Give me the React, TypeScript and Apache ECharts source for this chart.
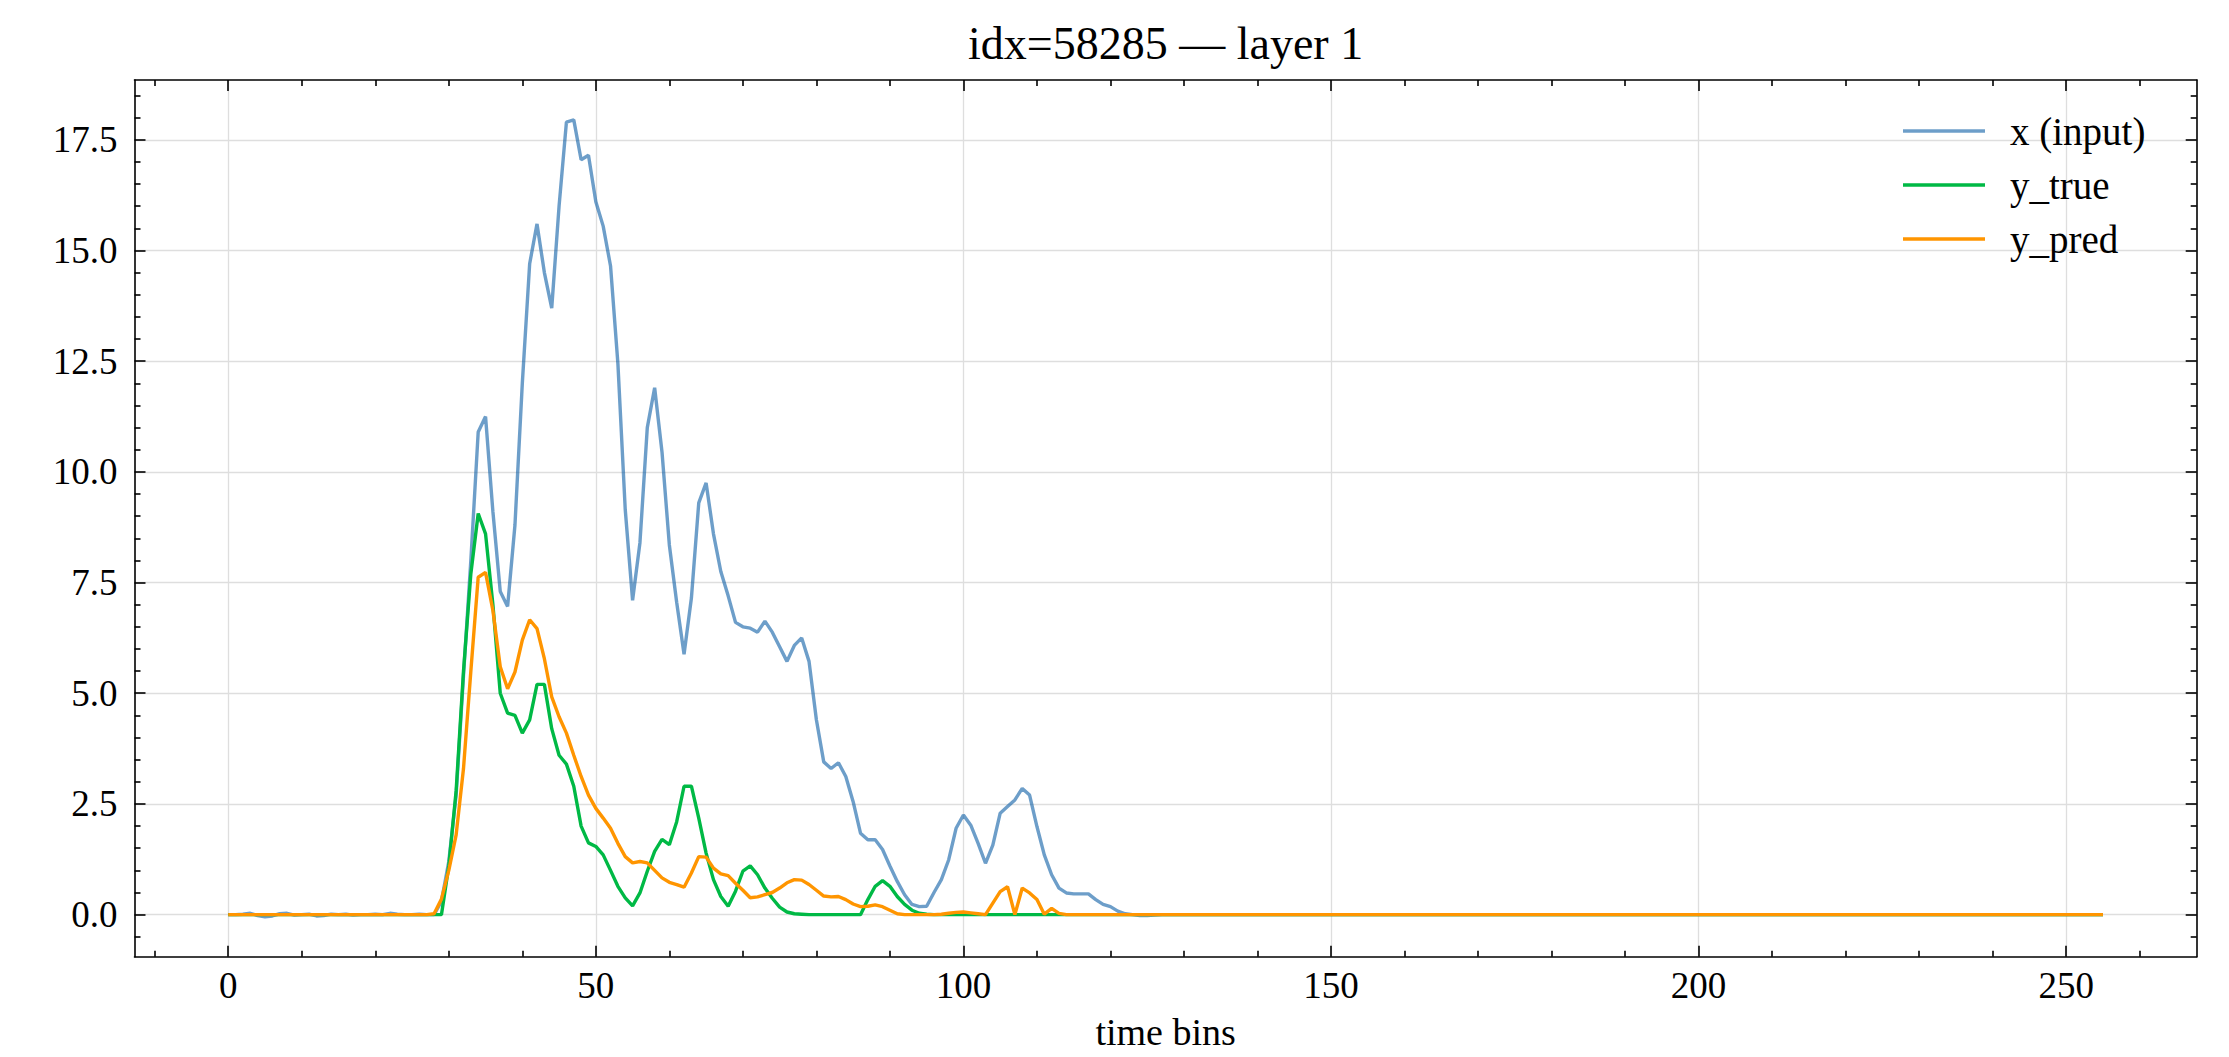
import React, { useEffect, useRef } from 'react';
import * as echarts from 'echarts';

const FONT = "'Liberation Serif', 'DejaVu Serif', serif";
const TITLE = 'idx=58285 — layer 1';
const X_LABEL = 'time bins';
const SERIES_NAMES = ['x (input)', 'y_true', 'y_pred'];
const SERIES_COLORS = ['rgba(12,93,165,0.6)', '#00B945', '#FF9500'];

const X_MIN = -12.75;
const X_MAX = 267.75;
const Y_MIN = -0.95;
const Y_MAX = 18.85;

const xMajorTicks = [0, 50, 100, 150, 200, 250];
const xMinorTicks = [-10, 10, 20, 30, 40, 60, 70, 80, 90, 110, 120, 130, 140, 160, 170, 180, 190, 210, 220, 230, 240, 260];
const yMajorTicks = [0, 2.5, 5, 7.5, 10, 12.5, 15, 17.5];
const yMinorTicks = [-0.5, 0.5, 1, 1.5, 2, 3, 3.5, 4, 4.5, 5.5, 6, 6.5, 7, 8, 8.5, 9, 9.5, 10.5, 11, 11.5, 12, 13, 13.5, 14, 14.5, 15.5, 16, 16.5, 17, 18, 18.5];

const xInput = [
  0, 0, 0.01, 0.03, -0.02, -0.05, -0.03, 0.02, 0.03, -0.01, 0, 0.01, -0.03, -0.02, 0.01, 0,
  0.01, -0.01, 0, 0, 0.01, 0, 0.03, 0.01, 0, 0, 0.01, 0, 0, 0.3, 1.2, 2.7,
  5.4, 8.0, 10.9, 11.25, 9.1, 7.3, 6.96, 8.8, 12.0, 14.7, 15.6, 14.5, 13.7, 16.0, 17.9, 17.95,
  17.05, 17.15, 16.1, 15.55, 14.65, 12.45, 9.15, 7.1, 8.4, 11.0, 11.9, 10.45, 8.35, 7.05, 5.88, 7.15,
  9.3, 9.75, 8.6, 7.75, 7.2, 6.6, 6.5, 6.47, 6.38, 6.63, 6.38, 6.05, 5.72, 6.08, 6.25, 5.72,
  4.4, 3.45, 3.3, 3.43, 3.12, 2.55, 1.84, 1.69, 1.69, 1.47, 1.1, 0.75, 0.45, 0.23, 0.18, 0.19,
  0.5, 0.79, 1.24, 1.95, 2.25, 2.02, 1.61, 1.16, 1.57, 2.29, 2.44, 2.59, 2.85, 2.7, 1.99, 1.35,
  0.9, 0.6, 0.49, 0.47, 0.47, 0.47, 0.34, 0.23, 0.18, 0.08, 0.02, 0, -0.02, -0.02, -0.01, 0,
  0, 0, 0, 0, 0, 0, 0, 0, 0, 0, 0, 0, 0, 0, 0, 0,
  0, 0, 0, 0, 0, 0, 0, 0, 0, 0, 0, 0, 0, 0, 0, 0,
  0, 0, 0, 0, 0, 0, 0, 0, 0, 0, 0, 0, 0, 0, 0, 0,
  0, 0, 0, 0, 0, 0, 0, 0, 0, 0, 0, 0, 0, 0, 0, 0,
  0, 0, 0, 0, 0, 0, 0, 0, 0, 0, 0, 0, 0, 0, 0, 0,
  0, 0, 0, 0, 0, 0, 0, 0, 0, 0, 0, 0, 0, 0, 0, 0,
  0, 0, 0, 0, 0, 0, 0, 0, 0, 0, 0, 0, 0, 0, 0, 0,
  0, 0, 0, 0, 0, 0, 0, 0, 0, 0, 0, 0, 0, 0, 0, 0,
];

const yTrue = [
  0, 0, 0, 0, 0, 0, 0, 0, 0, 0, 0, 0, 0, 0, 0, 0,
  0, 0, 0, 0, 0, 0, 0, 0, 0, 0, 0, 0, 0, 0, 1.1, 2.8,
  5.5, 7.7, 9.06, 8.6, 7.0, 5.0, 4.55, 4.5, 4.1, 4.4, 5.2, 5.2, 4.2, 3.6, 3.4, 2.9,
  2.0, 1.62, 1.54, 1.35, 1.0, 0.64, 0.38, 0.2, 0.49, 0.98, 1.43, 1.7, 1.58, 2.1, 2.9, 2.9,
  2.18, 1.39, 0.79, 0.41, 0.19, 0.53, 0.98, 1.1, 0.9, 0.6, 0.37, 0.17, 0.06, 0.02, 0.01, 0,
  0, 0, 0, 0, 0, 0, 0, 0.34, 0.64, 0.77, 0.64, 0.41, 0.23, 0.1, 0.03, 0.01,
  0, 0, 0, 0, 0, 0, 0, 0, 0, 0, 0, 0, 0, 0, 0, 0,
  0, 0, 0, 0, 0, 0, 0, 0, 0, 0, 0, 0, 0, 0, 0, 0,
  0, 0, 0, 0, 0, 0, 0, 0, 0, 0, 0, 0, 0, 0, 0, 0,
  0, 0, 0, 0, 0, 0, 0, 0, 0, 0, 0, 0, 0, 0, 0, 0,
  0, 0, 0, 0, 0, 0, 0, 0, 0, 0, 0, 0, 0, 0, 0, 0,
  0, 0, 0, 0, 0, 0, 0, 0, 0, 0, 0, 0, 0, 0, 0, 0,
  0, 0, 0, 0, 0, 0, 0, 0, 0, 0, 0, 0, 0, 0, 0, 0,
  0, 0, 0, 0, 0, 0, 0, 0, 0, 0, 0, 0, 0, 0, 0, 0,
  0, 0, 0, 0, 0, 0, 0, 0, 0, 0, 0, 0, 0, 0, 0, 0,
  0, 0, 0, 0, 0, 0, 0, 0, 0, 0, 0, 0, 0, 0, 0, 0,
];

const yPred = [
  0, 0, 0, 0, 0, 0, 0, 0, 0, 0, 0, 0, 0, 0, 0, 0,
  0, 0, 0, 0, 0, 0, 0, 0, 0, 0, 0, 0, 0.02, 0.35, 1.0, 1.8,
  3.3, 5.5, 7.62, 7.73, 6.87, 5.6, 5.1, 5.48, 6.2, 6.66, 6.46, 5.78, 4.92, 4.47, 4.1, 3.6,
  3.12, 2.7, 2.4, 2.18, 1.95, 1.61, 1.31, 1.17, 1.2, 1.17, 1.0, 0.83, 0.73, 0.68, 0.62, 0.94,
  1.31, 1.3, 1.05, 0.92, 0.88, 0.71, 0.55, 0.38, 0.4, 0.45, 0.5, 0.6, 0.72, 0.79, 0.78, 0.68,
  0.55, 0.42, 0.4, 0.41, 0.34, 0.24, 0.18, 0.19, 0.22, 0.18, 0.1, 0.02, 0, 0, 0, 0,
  0, 0.01, 0.03, 0.05, 0.06, 0.04, 0.02, 0, 0.26, 0.52, 0.63, 0, 0.6, 0.49, 0.34, 0.01,
  0.14, 0.03, 0, 0, 0, 0, 0, 0, 0, 0, 0, 0, 0, 0, 0, 0,
  0, 0, 0, 0, 0, 0, 0, 0, 0, 0, 0, 0, 0, 0, 0, 0,
  0, 0, 0, 0, 0, 0, 0, 0, 0, 0, 0, 0, 0, 0, 0, 0,
  0, 0, 0, 0, 0, 0, 0, 0, 0, 0, 0, 0, 0, 0, 0, 0,
  0, 0, 0, 0, 0, 0, 0, 0, 0, 0, 0, 0, 0, 0, 0, 0,
  0, 0, 0, 0, 0, 0, 0, 0, 0, 0, 0, 0, 0, 0, 0, 0,
  0, 0, 0, 0, 0, 0, 0, 0, 0, 0, 0, 0, 0, 0, 0, 0,
  0, 0, 0, 0, 0, 0, 0, 0, 0, 0, 0, 0, 0, 0, 0, 0,
  0, 0, 0, 0, 0, 0, 0, 0, 0, 0, 0, 0, 0, 0, 0, 0,
];

const W = 2229;
const H = 1057;
const GRID = { left: 134.5, right: 32.3, top: 80, bottom: 100.3 };
const AXIS_COLOR = '#000';
const AXIS_W = 1.6;

function makeAxis(kind: 'x' | 'y', position: string, major: boolean, labels: boolean) {
  const majorTicks = kind === 'x' ? xMajorTicks : yMajorTicks;
  const minorTicks = kind === 'x' ? xMinorTicks : yMinorTicks;
  return {
    type: 'value',
    position,
    min: kind === 'x' ? X_MIN : Y_MIN,
    max: kind === 'x' ? X_MAX : Y_MAX,
    axisLine: { show: major, onZero: false, lineStyle: { color: AXIS_COLOR, width: AXIS_W } },
    axisTick: {
      show: true,
      inside: true,
      length: major ? 11 : 6,
      customValues: major ? majorTicks : minorTicks,
      lineStyle: { color: AXIS_COLOR, width: AXIS_W },
    },
    axisLabel: labels
      ? {
          show: true,
          customValues: majorTicks,
          margin: kind === 'x' ? 10 : 17,
          fontFamily: FONT,
          fontSize: 37,
          color: '#000',
          formatter: (v: number) => (kind === 'x' ? String(Math.round(v)) : v.toFixed(1)),
        }
      : { show: false },
    splitLine: labels
      ? { show: true, lineStyle: { color: '#dedede', width: 1.3 } }
      : { show: false },
    minorTick: { show: false },
    minorSplitLine: { show: false },
  };
}

export default function App() {
  const ref = useRef<HTMLDivElement>(null);
  useEffect(() => {
    if (!ref.current) return;
    const chart = echarts.init(ref.current, null, { renderer: 'svg', width: W, height: H });
    const datasets = [xInput, yTrue, yPred];
    const plotCenterX = GRID.left + (W - GRID.left - GRID.right) / 2;
    chart.setOption({
      animation: false,
      backgroundColor: '#fff',
      grid: { ...GRID },
      xAxis: [
        makeAxis('x', 'bottom', true, true),
        makeAxis('x', 'bottom', false, false),
        makeAxis('x', 'top', true, false),
        makeAxis('x', 'top', false, false),
      ],
      yAxis: [
        makeAxis('y', 'left', true, true),
        makeAxis('y', 'left', false, false),
        makeAxis('y', 'right', true, false),
        makeAxis('y', 'right', false, false),
      ],
      legend: {
        orient: 'vertical',
        left: 1898,
        top: 106,
        icon: 'rect',
        itemWidth: 82,
        itemHeight: 3.5,
        itemGap: 14,
        data: SERIES_NAMES,
        textStyle: {
          fontFamily: FONT,
          fontSize: 39,
          color: '#000',
          lineHeight: 40,
          padding: [0, 0, 0, 20],
        },
      },
      graphic: [
        {
          type: 'text',
          x: plotCenterX,
          y: 43,
          style: {
            text: TITLE,
            fontFamily: FONT,
            fontSize: 46,
            fill: '#000',
            textAlign: 'center',
            textVerticalAlign: 'middle',
          },
        },
        {
          type: 'text',
          x: plotCenterX,
          y: 1032,
          style: {
            text: X_LABEL,
            fontFamily: FONT,
            fontSize: 38,
            fill: '#000',
            textAlign: 'center',
            textVerticalAlign: 'middle',
          },
        },
      ],
      series: datasets.map((arr, k) => ({
        name: SERIES_NAMES[k],
        type: 'line',
        xAxisIndex: 0,
        yAxisIndex: 0,
        data: arr.map((v, i) => [i, v]),
        showSymbol: false,
        symbol: 'none',
        color: SERIES_COLORS[k],
        lineStyle: { width: 3.4, color: SERIES_COLORS[k] },
        z: 2 + k,
      })),
    });
    return () => chart.dispose();
  }, []);
  return (
    <div
      ref={ref}
      style={{ position: 'fixed', left: 0, top: 0, width: W, height: H, background: '#fff' }}
    />
  );
}
